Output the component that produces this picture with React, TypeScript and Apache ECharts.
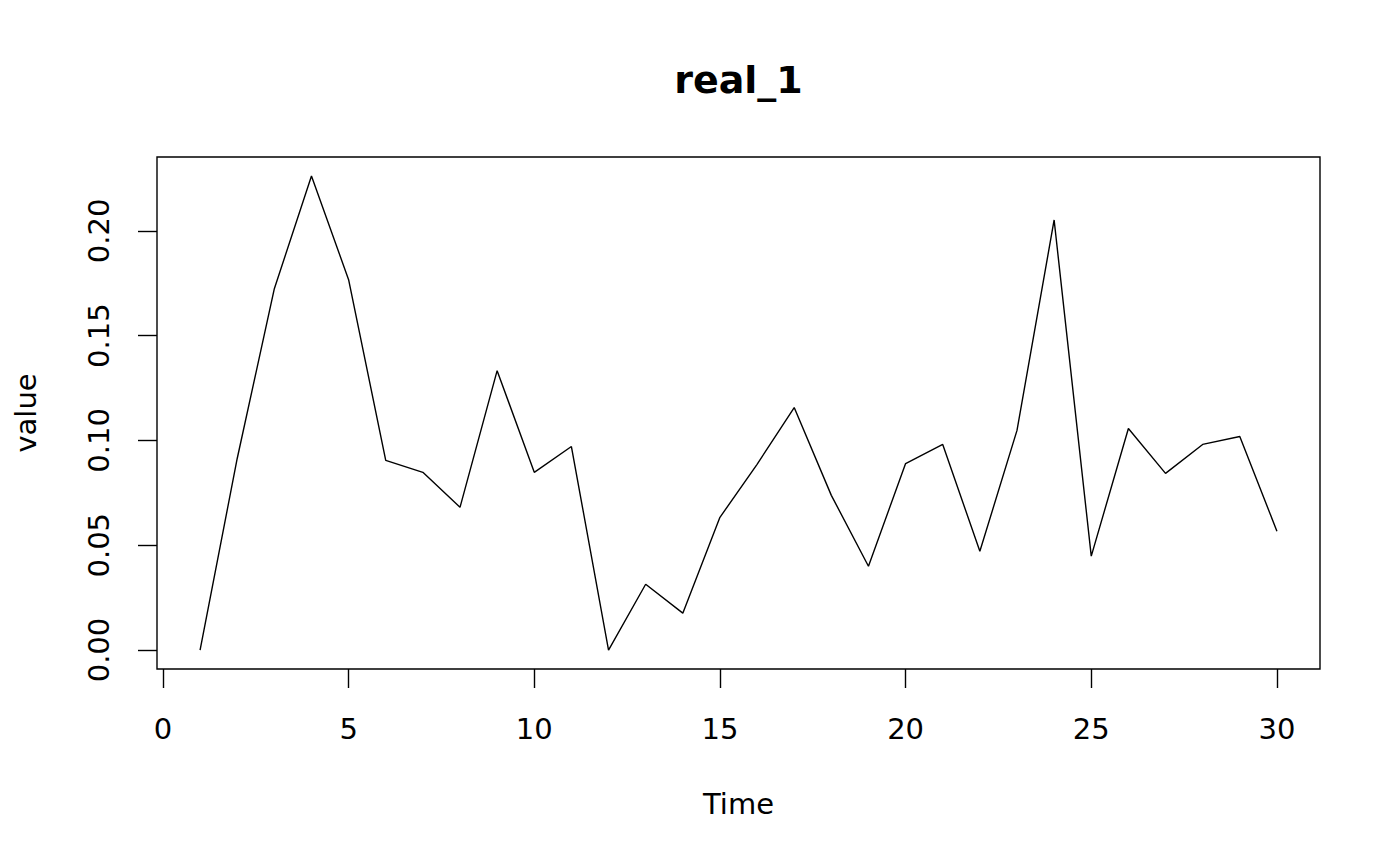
import React, { useEffect, useRef } from "react";
import * as echarts from "echarts";

const timeValues = [1,2,3,4,5,6,7,8,9,10,11,12,13,14,15,16,17,18,19,20,21,22,23,24,25,26,27,28,29,30];
const seriesValues = [
  0, 0.0914, 0.1724, 0.2262, 0.1767, 0.0905, 0.0848, 0.0681, 0.1333, 0.0848,
  0.0971, 0, 0.0314, 0.0176, 0.0633, 0.0886, 0.1157, 0.0738, 0.0400, 0.0890,
  0.0981, 0.0471, 0.1048, 0.2052, 0.0448, 0.1057, 0.0843, 0.0981, 0.1019, 0.0567,
];
const xTicks = [0, 5, 10, 15, 20, 25, 30];
const yTicks = [0, 0.05, 0.1, 0.15, 0.2];
const titleText = "real_1";
const xName = "Time";
const yName = "value";

export default function App() {
  const ref = useRef<HTMLDivElement>(null);
  useEffect(() => {
    if (!ref.current) return;
    const chart = echarts.init(ref.current, null, { renderer: "svg" });
    const xLo = Math.min(...timeValues), xHi = Math.max(...timeValues);
    const yLo = Math.min(...seriesValues), yHi = Math.max(...seriesValues);
    const xPad = (xHi - xLo) * 0.04, yPad = (yHi - yLo) * 0.04;
    const font = "DejaVu Sans";
    const gridLeft = 157, gridTop = 157, gridWidth = 1163, gridHeight = 512;
    chart.setOption({
      animation: false,
      backgroundColor: "#ffffff",
      title: {
        text: titleText,
        left: gridLeft + gridWidth / 2 - 5,
        textAlign: "center",
        top: 56,
        textStyle: { fontFamily: font, fontWeight: "bold", fontSize: 38, color: "#000" },
      },
      grid: {
        left: gridLeft, top: gridTop, width: gridWidth, height: gridHeight,
        show: true, borderColor: "#000", borderWidth: 1.4, backgroundColor: "transparent",
      },
      xAxis: {
        type: "value",
        min: xLo - xPad, max: xHi + xPad,
        axisLine: { show: false, onZero: false },
        splitLine: { show: false },
        axisTick: { show: true, inside: false, length: 19, customValues: xTicks, lineStyle: { color: "#000", width: 1.4 } },
        axisLabel: { customValues: xTicks, margin: 45, fontFamily: font, fontSize: 29, color: "#000" },
        name: xName, nameLocation: "middle", nameGap: 120,
        nameTextStyle: { fontFamily: font, fontSize: 29, color: "#000" },
      },
      yAxis: {
        type: "value",
        min: yLo - yPad, max: yHi + yPad,
        axisLine: { show: false, onZero: false },
        splitLine: { show: false },
        axisTick: { show: true, inside: false, length: 19, customValues: yTicks, lineStyle: { color: "#000", width: 1.4 } },
        axisLabel: {
          customValues: yTicks, rotate: 90, margin: 44, fontFamily: font, fontSize: 29, color: "#000",
          formatter: (v: number) => v.toFixed(2),
        },
        name: yName, nameLocation: "middle", nameGap: 117, nameRotate: 90,
        nameTextStyle: { fontFamily: font, fontSize: 29, color: "#000" },
      },
      series: [{
        type: "line",
        data: timeValues.map((t, i) => [t, seriesValues[i]]),
        symbol: "none",
        lineStyle: { color: "#000", width: 1.4 },
      }],
    });
    return () => chart.dispose();
  }, []);
  return <div ref={ref} style={{ position: "fixed", left: 0, top: 0, width: 1400, height: 866 }} />;
}
